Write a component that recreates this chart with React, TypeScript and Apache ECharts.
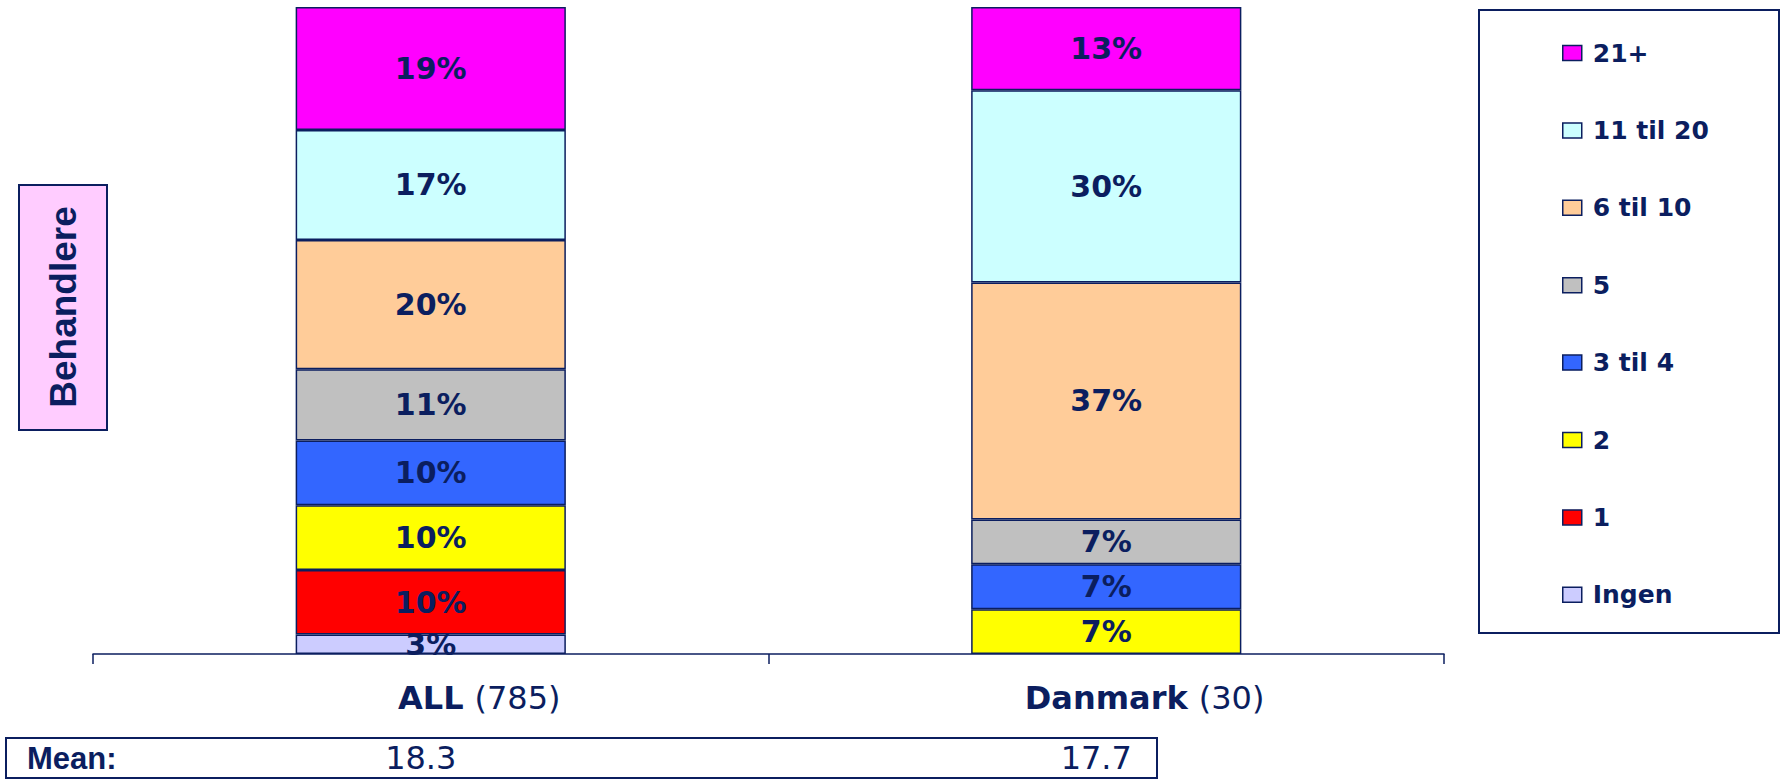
import React, { useEffect, useRef } from "react";
import * as echarts from "echarts";

const categories = ["ALL", "Danmark"];
const counts = ["(785)", "(30)"];
const meanValues = ["18.3", "17.7"];
const seriesNames = ["Ingen", "1", "2", "3 til 4", "5", "6 til 10", "11 til 20", "21+"];
// percentages as printed on the bars (each column is drawn as a 100% stack)
const ingen = [3, 0];
const one = [10, 0];
const two = [10, 7];
const threeToFour = [10, 7];
const five = [11, 7];
const sixToTen = [20, 37];
const elevenToTwenty = [17, 30];
const twentyOnePlus = [19, 13];
const seriesColors = ["#CCCCFF", "#FF0000", "#FFFF00", "#3366FF", "#C0C0C0", "#FFCC99", "#CCFFFF", "#FF00FF"];
const legendOrder = ["21+", "11 til 20", "6 til 10", "5", "3 til 4", "2", "1", "Ingen"];

const NAVY = "#0B1E5F";

function measure(text: string, font: string): number {
  const ctx = document.createElement("canvas").getContext("2d");
  if (!ctx) return text.length * 18;
  ctx.font = font;
  return ctx.measureText(text).width;
}

export default function App() {
  const ref = useRef<HTMLDivElement>(null);
  useEffect(() => {
    if (!ref.current) return;
    const chart = echarts.init(ref.current, null, { renderer: "svg" });
    const NAME_FONT = 32;
    const COUNT_FONT = 32;
    const GAP = 11;
    const rich: any = {};
    categories.forEach((c, i) => {
      const cw = measure(counts[i], `normal ${COUNT_FONT}px "DejaVu Sans"`);
      rich["b" + i] = {
        fontFamily: "DejaVu Sans",
        fontWeight: "bold",
        fontSize: NAME_FONT,
        color: NAVY,
        lineHeight: 36,
        padding: [0, 0, 0, cw + GAP],
      };
    });
    rich.n = {
      fontFamily: "DejaVu Sans",
      fontSize: COUNT_FONT,
      color: NAVY,
      lineHeight: 36,
      padding: [0, 0, 0, GAP],
    };
    const seriesData = [ingen, one, two, threeToFour, five, sixToTen, elevenToTwenty, twentyOnePlus];
    const totals = categories.map((_, ci) => seriesData.reduce((s, arr) => s + arr[ci], 0));
    const series = seriesNames.map((name, i) => ({
      name,
      type: "bar",
      stack: "total",
      barWidth: "40%",
      xAxisIndex: 0,
      data: seriesData[i].map((v, ci) =>
        v === 0 ? "-" : { value: (v / totals[ci]) * 100, shown: v }
      ),
      itemStyle: { color: seriesColors[i], borderColor: NAVY, borderWidth: 1.5 },
      label: {
        show: true,
        position: "inside",
        formatter: (p: any) => (p.data && p.data.shown != null ? p.data.shown : Math.round(p.value)) + "%",
        fontFamily: "DejaVu Sans",
        fontWeight: "bold",
        fontSize: 30,
        color: NAVY,
        textBorderWidth: 0,
      },
    }));
    chart.setOption({
      animation: false,
      backgroundColor: "#FFFFFF",
      grid: { left: 93, right: 339, top: 7, bottom: 125, containLabel: false },
      legend: {
        data: legendOrder,
        orient: "vertical",
        left: 1562,
        top: 38,
        padding: 0,
        itemWidth: 19,
        itemHeight: 15,
        itemGap: 47.4,
        icon: "rect",
        selectedMode: false,
        itemStyle: { borderColor: NAVY, borderWidth: 1.5 },
        textStyle: {
          fontFamily: "DejaVu Sans",
          fontWeight: "bold",
          fontSize: 25,
          color: NAVY,
          lineHeight: 30,
          padding: [0, 0, 0, 6],
        },
      },
      xAxis: [
        {
          type: "category",
          data: categories,
          position: "bottom",
          axisLine: { lineStyle: { color: NAVY, width: 1.5 } },
          axisTick: { show: true, length: 10, lineStyle: { color: NAVY, width: 1.5 } },
          axisLabel: {
            interval: 0,
            margin: 26,
            formatter: (v: string, i: number) => `{b${i}|${v}}{n|${counts[i]}}`,
            rich,
          },
        },
        {
          type: "category",
          data: categories,
          position: "bottom",
          axisLine: { show: false },
          axisTick: { show: false },
          axisLabel: {
            interval: 0,
            margin: 88,
            formatter: (v: string, i: number) => meanValues[i],
            fontFamily: "DejaVu Sans",
            fontSize: 32,
            lineHeight: 32,
            color: NAVY,
            padding: [0, 20, 0, 0],
          },
        },
      ],
      yAxis: { type: "value", min: 0, max: 100, show: false },
      series,
      graphic: [
        {
          type: "rect",
          shape: { x: 19, y: 185, width: 88, height: 245 },
          style: { fill: "#FFCCFF", stroke: NAVY, lineWidth: 2 },
        },
        {
          type: "text",
          x: 63,
          y: 307,
          rotation: Math.PI / 2,
          style: {
            text: "Behandlere",
            fill: NAVY,
            fontFamily: "Liberation Sans",
            fontWeight: "bold",
            fontSize: 37,
            align: "center",
            verticalAlign: "middle",
          },
        },
        {
          type: "rect",
          shape: { x: 1479, y: 10, width: 300, height: 623 },
          style: { fill: "none", stroke: NAVY, lineWidth: 2 },
        },
        {
          type: "rect",
          shape: { x: 6, y: 738, width: 1151, height: 40 },
          style: { fill: "none", stroke: NAVY, lineWidth: 2 },
        },
        {
          type: "text",
          x: 27,
          y: 758,
          style: {
            text: "Mean:",
            fill: NAVY,
            fontFamily: "Liberation Sans",
            fontWeight: "bold",
            fontSize: 31,
            verticalAlign: "middle",
          },
        },
      ],
    });
    return () => chart.dispose();
  }, []);
  return (
    <div
      ref={ref}
      style={{ position: "absolute", left: 0, top: 0, width: 1783, height: 779 }}
    />
  );
}
